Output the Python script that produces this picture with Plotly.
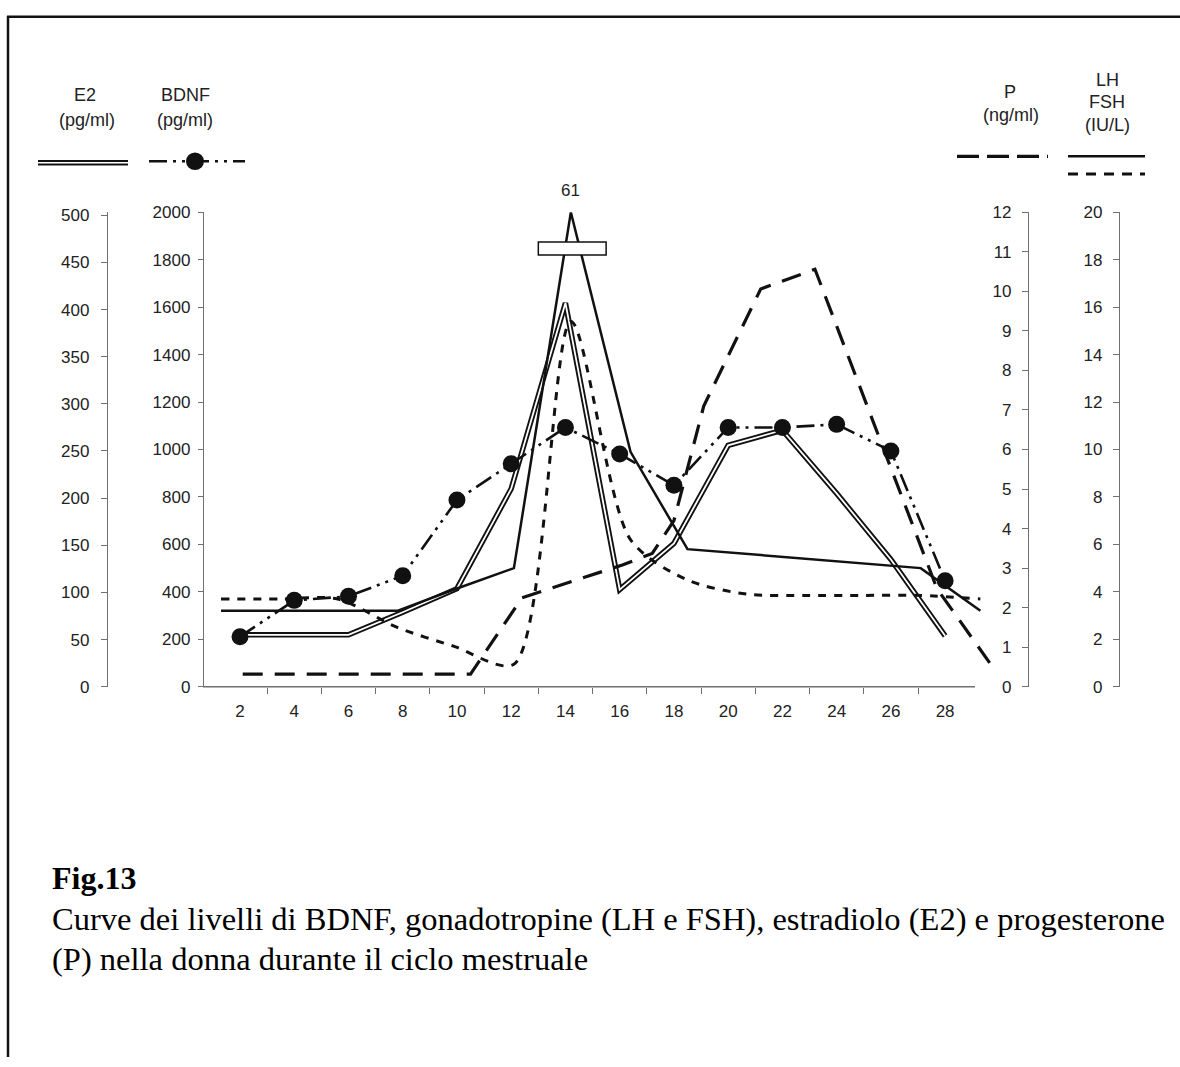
import plotly.graph_objects as go

W, H = 1180, 1067

# ---------------- data ----------------
day_ticks = [2, 4, 6, 8, 10, 12, 14, 16, 18, 20, 22, 24, 26, 28]
day_tick_text = [str(d) for d in day_ticks]
day_minor_ticks = [3, 5, 7, 9, 11, 13, 15, 17, 19, 21, 23, 25, 27]

e2_days = [2, 4, 6, 8, 10, 12, 14, 16, 18, 20, 22, 24, 26, 28]
e2_values = [55, 55, 55, 79, 104, 210, 407, 103, 152, 256, 272, 205, 135, 54]

bdnf_days = [2, 4, 6, 8, 10, 12, 14, 16, 18, 20, 22, 24, 26, 28]
bdnf_values = [211, 364, 381, 468, 787, 940, 1093, 981, 849, 1093, 1093, 1106, 994, 447]

p_days = [2.1, 10.5, 12.4, 16.1, 17.2, 18.0, 19.1, 21.2, 23.2, 27.7, 29.7]
p_values = [0.32, 0.32, 2.25, 3.08, 3.37, 4.2, 7.1, 10.06, 10.56, 2.48, 0.55]

gonad_days = [1.3, 3.5, 5.6, 7.8, 9.9, 12.1, 14.2, 16.4, 18.5, 20.7, 22.8, 25.0, 27.1, 29.3]
lh_values = [3.2, 3.2, 3.2, 3.2, 4.1, 5.0, 61, 9.9, 5.8, 5.6, 5.4, 5.2, 5.0, 3.2]
fsh_values = [3.7, 3.7, 3.7, 2.5, 1.7, 0.95, 15.4, 6.2, 4.5, 3.9, 3.85, 3.85, 3.85, 3.7]

e2_ticks = list(range(0, 501, 50))
bdnf_ticks = list(range(0, 2001, 200))
p_ticks = list(range(0, 13, 1))
gonad_ticks = list(range(0, 21, 2))

E2_MAX, BDNF_MAX, P_MAX, GONAD_MAX = 500, 2000, 12, 20

# ---------------- helpers ----------------
def px(x):
    return x / W

def py(y):
    return 1 - y / H

INK = "#111111"
AX = "#707070"
SANS = "Liberation Sans, Arial, sans-serif"
SERIF = "Liberation Serif, Times New Roman, serif"

BDNF_DASH = "18px,6px,3px,6px,3px,6px"
P_DASH = "20px,12px"
FSH_DASH = "8px,8px"

# x scale: day 2 at 240 px, 27.12 px per day, plot area from 203 to 1000 px
PX_PER_DAY = 27.12
x0_day = 2 + (203 - 240) / PX_PER_DAY
x1_day = 2 + (1000 - 240) / PX_PER_DAY

fig = go.Figure()

# E2: double line (thick black + thin white core)
fig.add_trace(go.Scatter(x=e2_days, y=e2_values, yaxis="y", mode="lines",
                         line=dict(color=INK, width=5.5), showlegend=False, hoverinfo="skip"))
fig.add_trace(go.Scatter(x=e2_days, y=e2_values, yaxis="y", mode="lines",
                         line=dict(color="white", width=1.8), showlegend=False, name="E2"))

# LH solid (peak capped at the axis break)
lh_plot = [min(v, GONAD_MAX) for v in lh_values]
fig.add_trace(go.Scatter(x=gonad_days, y=lh_plot, yaxis="y4", mode="lines",
                         line=dict(color=INK, width=2.5), showlegend=False, name="LH"))
# FSH short dash
fig.add_trace(go.Scatter(x=gonad_days, y=fsh_values, yaxis="y4", mode="lines",
                         line=dict(color=INK, width=3, dash=FSH_DASH, shape="spline", smoothing=0.8),
                         showlegend=False, name="FSH"))
# P long dash
fig.add_trace(go.Scatter(x=p_days, y=p_values, yaxis="y3", mode="lines",
                         line=dict(color=INK, width=3.2, dash=P_DASH),
                         showlegend=False, name="P"))
# BDNF dash-dot-dot with dots
fig.add_trace(go.Scatter(x=bdnf_days, y=bdnf_values, yaxis="y2", mode="lines+markers",
                         line=dict(color=INK, width=2.6, dash=BDNF_DASH),
                         marker=dict(color=INK, size=17, symbol="circle"),
                         showlegend=False, name="BDNF"))

tickfont = dict(family=SANS, size=17, color="#222222")
ydom = [py(690), py(207)]

def yax(rng, ticks, pos, standoff, ticklen=6, overlay=None):
    d = dict(domain=ydom, range=rng, tickvals=ticks, ticktext=[str(t) for t in ticks],
             anchor="free", position=pos, side="left",
             showline=True, linecolor=AX, linewidth=1.4,
             ticks="outside", ticklen=ticklen, tickwidth=1.3, tickcolor=AX,
             tickfont=tickfont, showgrid=False, zeroline=False,
             ticklabelstandoff=standoff, fixedrange=True)
    if overlay:
        d["overlaying"] = overlay
    return d

fig.update_layout(
    width=W, height=H,
    margin=dict(l=0, r=0, t=0, b=0),
    paper_bgcolor="white", plot_bgcolor="rgba(0,0,0,0)",
    showlegend=False,
    xaxis=dict(domain=[px(203), px(1000)], range=[x0_day, x1_day], anchor="y",
               tickvals=day_ticks, ticktext=day_tick_text, ticks="",
               minor=dict(tickvals=day_minor_ticks, ticks="outside", ticklen=6,
                          tickwidth=1.3, tickcolor=AX),
               showline=False, showgrid=False, zeroline=False,
               tickfont=tickfont, ticklabelstandoff=12, fixedrange=True),
    # upper half of the crossing x ticks
    xaxis2=dict(overlaying="x", anchor="y", range=[x0_day, x1_day],
                tickvals=day_ticks, showticklabels=False, ticks="",
                minor=dict(tickvals=day_minor_ticks, ticks="inside", ticklen=6,
                           tickwidth=1.3, tickcolor=AX),
                showline=False, showgrid=False, zeroline=False, fixedrange=True),
    # E2 axis: 500 sits 3 px below the top of the other axes
    yaxis=yax([0, E2_MAX * 483 / 480], e2_ticks, px(107), 8),
    yaxis2=yax([0, BDNF_MAX], bdnf_ticks, px(203), 4, ticklen=5, overlay="y"),
    yaxis3=yax([0, P_MAX], p_ticks, px(1028), 7, overlay="y"),
    yaxis4=yax([0, GONAD_MAX], gonad_ticks, px(1119), 7, overlay="y"),
    # right half of the crossing BDNF ticks
    yaxis5=dict(overlaying="y", anchor="free", position=px(203), side="left",
                range=[0, BDNF_MAX], tickvals=bdnf_ticks, showticklabels=False,
                ticks="inside", ticklen=5, tickwidth=1.3, tickcolor=AX,
                showline=False, showgrid=False, zeroline=False, fixedrange=True),
)

shapes = []
# x axis baseline
shapes.append(dict(type="line", xref="paper", yref="paper", x0=px(203), x1=px(975),
                   y0=py(690), y1=py(690), line=dict(color=AX, width=1.4)))
# page frame (top and left)
shapes.append(dict(type="line", xref="paper", yref="paper", x0=px(7), x1=1,
                   y0=py(8), y1=py(8), line=dict(color=INK, width=2.5)))
shapes.append(dict(type="line", xref="paper", yref="paper", x0=px(8), x1=px(8),
                   y0=py(7), y1=0, line=dict(color=INK, width=2.5)))

# axis-break box on the LH peak
lh_peak_i = lh_values.index(max(lh_values))
lh_peak_day = gonad_days[lh_peak_i]
shapes.append(dict(type="rect", xref="x", yref="y4",
                   x0=lh_peak_day - 1.2, x1=lh_peak_day + 1.3, y0=18.2, y1=18.75,
                   fillcolor="white", line=dict(color=INK, width=1.5), layer="above"))

# legend samples
shapes.append(dict(type="line", xref="paper", yref="paper", x0=px(38), x1=px(128),
                   y0=py(156.5), y1=py(156.5), line=dict(color=INK, width=5.5)))
shapes.append(dict(type="line", xref="paper", yref="paper", x0=px(38), x1=px(128),
                   y0=py(156.5), y1=py(156.5), line=dict(color="white", width=1.6)))
shapes.append(dict(type="line", xref="paper", yref="paper", x0=px(149), x1=px(245),
                   y0=py(155), y1=py(155), line=dict(color=INK, width=2.6, dash=BDNF_DASH)))
shapes.append(dict(type="circle", xref="paper", yref="paper", x0=px(186), x1=px(204),
                   y0=py(164), y1=py(146), fillcolor=INK, line=dict(color=INK, width=0)))
shapes.append(dict(type="line", xref="paper", yref="paper", x0=px(957), x1=px(1048),
                   y0=py(150), y1=py(150), line=dict(color=INK, width=3.2, dash="22px,8px")))
shapes.append(dict(type="line", xref="paper", yref="paper", x0=px(1068), x1=px(1145),
                   y0=py(150), y1=py(150), line=dict(color=INK, width=2.5)))
shapes.append(dict(type="line", xref="paper", yref="paper", x0=px(1068), x1=px(1145),
                   y0=py(168), y1=py(168), line=dict(color=INK, width=3, dash="10px,8px")))

fig.update_layout(shapes=shapes)

ann = []
def label(text, x, y, size=18, family=SANS, color="#222222", xanchor="center", bold=False):
    t = f"<b>{text}</b>" if bold else text
    ann.append(dict(text=t, x=px(x), y=py(y), xref="paper", yref="paper",
                    xanchor=xanchor, yanchor="middle", showarrow=False,
                    font=dict(family=family, size=size, color=color)))

label("E2", 85, 88)
label("(pg/ml)", 87, 113)
label("BDNF", 185, 88)
label("(pg/ml)", 185, 113)
label("P", 1010, 84)
label("(ng/ml)", 1011, 108)
label("LH", 1107, 72)
label("FSH", 1107, 95)
label("(IU/L)", 1107, 118)

# peak value label
ann.append(dict(text=str(max(lh_values)), x=lh_peak_day, y=GONAD_MAX, xref="x", yref="y4",
                yshift=22, showarrow=False, xanchor="center", yanchor="middle",
                font=dict(family=SANS, size=17, color="#222222")))

# caption
label("Fig.13", 50, 885, size=32, family=SERIF, color="black", xanchor="left", bold=True)
label("Curve dei livelli di BDNF, gonadotropine (LH e FSH), estradiolo (E2) e progesterone",
      50, 927, size=32.5, family=SERIF, color="black", xanchor="left")
label("(P) nella donna durante il ciclo mestruale", 50, 967, size=32.5, family=SERIF,
      color="black", xanchor="left")

fig.update_layout(annotations=ann)

POST = (
    "var de=document.documentElement, b=document.body;"
    "de.style.margin='0';de.style.padding='0';de.style.overflow='hidden';"
    "de.style.height='1067px';"
    "b.style.margin='0';b.style.padding='0';b.style.overflow='hidden';"
    "b.style.height='1067px';"
    "var d=document.getElementById('{plot_id}');"
    "d.style.position='absolute';d.style.left='0px';d.style.top='0px';"
)

fig.write_html("out.html", config={"displayModeBar": False}, post_script=POST)
